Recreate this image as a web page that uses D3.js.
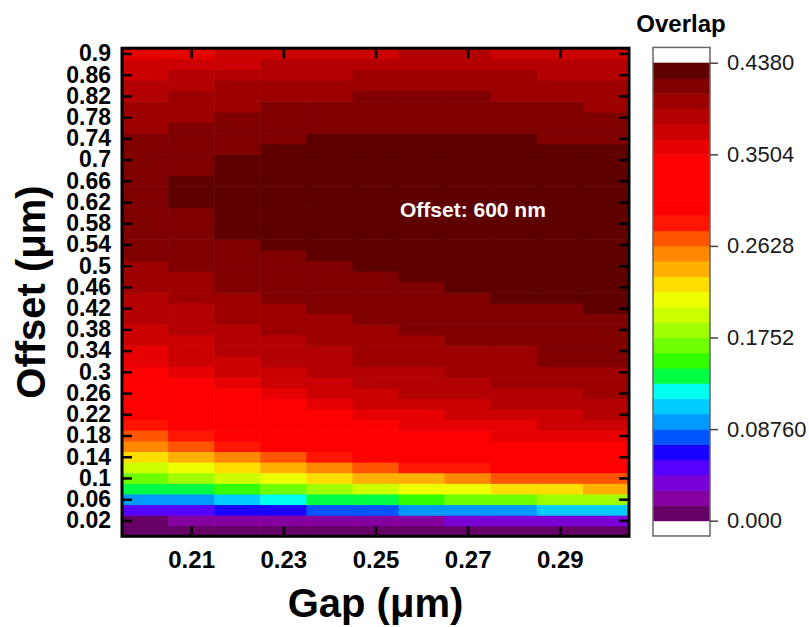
<!DOCTYPE html>
<html>
<head>
<meta charset="utf-8">
<script src="https://cdn.jsdelivr.net/npm/d3@7"></script>
<style>
  body { margin: 0; background: #fff; }
  text { font-family: "Liberation Sans", Arial, sans-serif; }
</style>
</head>
<body>
<div id="chart"></div>
<script>
// gap values (columns, um) and offset values (rows, um)
const gaps = [0.20, 0.21, 0.22, 0.23, 0.24, 0.25, 0.26, 0.27, 0.28, 0.29, 0.30];
const offsets = [0, 0.02, 0.04, 0.06, 0.08, 0.1, 0.12, 0.14, 0.16, 0.18, 0.2, 0.22, 0.24, 0.26,
  0.28, 0.3, 0.32, 0.34, 0.36, 0.38, 0.4, 0.42, 0.44, 0.46, 0.48, 0.5, 0.52, 0.54, 0.56, 0.58,
  0.6, 0.62, 0.64, 0.66, 0.68, 0.7, 0.72, 0.74, 0.76, 0.78, 0.8, 0.82, 0.84, 0.86, 0.88, 0.9];

// overlap, one row per offset (bottom to top), one value per gap
const overlap = [
  [.007,.007,.007,.007,.007,.007,.007,.007,.007,.007,.007],
  [.007,.022,.022,.022,.022,.022,.022,.037,.037,.037,.037],
  [.051,.051,.066,.066,.080,.080,.095,.095,.095,.110,.110],
  [.095,.095,.110,.124,.139,.139,.153,.168,.168,.183,.183],
  [.139,.139,.153,.168,.183,.197,.212,.212,.226,.226,.241],
  [.168,.183,.197,.212,.226,.241,.241,.256,.270,.270,.270],
  [.197,.212,.226,.241,.256,.270,.285,.285,.320,.320,.320],
  [.226,.241,.256,.270,.285,.320,.320,.320,.320,.320,.320],
  [.256,.270,.285,.320,.320,.320,.320,.320,.320,.320,.320],
  [.270,.285,.320,.320,.320,.320,.320,.320,.358,.358,.358],
  [.285,.320,.320,.320,.320,.320,.358,.358,.358,.372,.372],
  [.320,.320,.320,.320,.320,.358,.358,.372,.372,.372,.387],
  [.320,.320,.320,.320,.358,.372,.372,.372,.387,.387,.387],
  [.320,.320,.320,.358,.372,.372,.387,.387,.387,.387,.402],
  [.320,.320,.358,.372,.372,.387,.387,.387,.402,.402,.402],
  [.320,.358,.372,.372,.387,.387,.387,.402,.402,.402,.402],
  [.358,.372,.372,.387,.387,.402,.402,.402,.402,.416,.416],
  [.358,.372,.387,.387,.387,.402,.402,.402,.402,.416,.416],
  [.372,.372,.387,.387,.402,.402,.402,.416,.416,.416,.416],
  [.372,.387,.387,.402,.402,.402,.416,.416,.416,.416,.416],
  [.387,.387,.402,.402,.402,.416,.416,.416,.416,.416,.416],
  [.387,.387,.402,.402,.416,.416,.416,.416,.416,.416,.431],
  [.387,.402,.402,.416,.416,.416,.416,.416,.431,.431,.431],
  [.402,.402,.416,.416,.416,.416,.416,.431,.431,.431,.431],
  [.402,.402,.416,.416,.416,.416,.431,.431,.431,.431,.431],
  [.402,.416,.416,.416,.416,.431,.431,.431,.431,.431,.431],
  [.416,.416,.416,.416,.431,.431,.431,.431,.431,.431,.431],
  [.416,.416,.416,.431,.431,.431,.431,.431,.431,.431,.431],
  [.416,.416,.431,.431,.431,.431,.431,.431,.431,.431,.431],
  [.416,.416,.431,.431,.431,.431,.431,.431,.431,.431,.431],
  [.416,.416,.431,.431,.431,.431,.431,.431,.431,.431,.431],
  [.416,.431,.431,.431,.431,.431,.431,.431,.431,.431,.431],
  [.416,.431,.431,.431,.431,.431,.431,.431,.431,.431,.431],
  [.416,.431,.431,.431,.431,.431,.431,.431,.431,.431,.431],
  [.416,.416,.431,.431,.431,.431,.431,.431,.431,.431,.431],
  [.416,.416,.431,.431,.431,.431,.431,.431,.431,.431,.431],
  [.416,.416,.416,.431,.431,.431,.431,.431,.431,.431,.431],
  [.416,.416,.416,.416,.431,.431,.431,.431,.431,.416,.416],
  [.402,.416,.416,.416,.416,.416,.416,.416,.416,.416,.416],
  [.402,.402,.416,.416,.416,.416,.416,.416,.416,.416,.416],
  [.402,.402,.402,.416,.416,.416,.416,.416,.416,.416,.402],
  [.387,.402,.402,.402,.402,.416,.416,.416,.402,.402,.402],
  [.387,.387,.402,.402,.402,.402,.402,.402,.402,.402,.402],
  [.372,.387,.387,.387,.387,.402,.402,.402,.402,.387,.387],
  [.372,.372,.372,.387,.387,.387,.387,.387,.387,.387,.387],
  [.358,.358,.372,.372,.372,.372,.387,.387,.372,.372,.372]
];

const xTicks = [0.21, 0.23, 0.25, 0.27, 0.29];
const yTicks = [0.02, 0.06, 0.1, 0.14, 0.18, 0.22, 0.26, 0.3, 0.34, 0.38, 0.42, 0.46, 0.5,
  0.54, 0.58, 0.62, 0.66, 0.7, 0.74, 0.78, 0.82, 0.86, 0.9];
const barTicks = [0, 0.0876, 0.1752, 0.2628, 0.3504, 0.438];
const barTickLabels = ["0.000", "0.08760", "0.1752", "0.2628", "0.3504", "0.4380"];

// 30 colour levels of the colour bar, bottom to top
const levelColors = ["#660066", "#8500a0", "#7a00d8", "#5500ff", "#1a00ff", "#0055ff",
  "#0099ff", "#00ccff", "#00ffee", "#00ff44", "#33ff00", "#6eff00", "#a0ff00", "#ccff00",
  "#eeff00", "#ffdd00", "#ffb000", "#ff8800", "#ff5500", "#ff1500", "#ff0000", "#ff0000",
  "#ff0000", "#ff0000", "#e60000", "#cc0000", "#b30000", "#9c0000", "#800000", "#5e0000"];

const barMax = 0.438;
const step = barMax / levelColors.length;

const svg = d3.select("#chart").append("svg")
  .attr("width", 809)
  .attr("height", 627);

const x = d3.scaleLinear().domain([0.195, 0.305]).range([122, 629]);
const y = d3.scaleLinear().domain([-0.01, 0.91]).range([536.3, 48.2]);
const color = d3.scaleThreshold()
  .domain(d3.range(1, levelColors.length).map(k => k * step))
  .range(levelColors);

// heat map cells
const cells = [];
offsets.forEach((o, i) => gaps.forEach((g, j) => cells.push({ g: g, o: o, v: overlap[i][j] })));

svg.append("g").selectAll("rect")
  .data(cells)
  .join("rect")
  .attr("x", d => x(d.g - 0.005))
  .attr("width", d => x(d.g + 0.005) - x(d.g - 0.005) + 0.6)
  .attr("y", d => y(d.o + 0.01))
  .attr("height", d => y(d.o - 0.01) - y(d.o + 0.01) + 0.6)
  .attr("fill", d => color(d.v));

svg.append("text")
  .attr("x", 400)
  .attr("y", 217)
  .attr("fill", "#fff")
  .attr("font-size", 21)
  .attr("font-weight", "bold")
  .text("Offset: 600 nm");

// axes, ticks pointing inward
function styleAxis(sel, size) {
  sel.select(".domain").remove();
  sel.selectAll(".tick line").attr("stroke", "#000").attr("stroke-width", 2.5);
  sel.selectAll(".tick text")
    .attr("fill", "#000")
    .attr("font-size", size)
    .attr("font-weight", "bold")
    .attr("font-family", '"Liberation Sans", Arial, sans-serif');
}

const fmt = d => String(+d.toFixed(2));

svg.append("g")
  .attr("transform", "translate(122,0)")
  .call(d3.axisLeft(y).tickValues(yTicks).tickSize(-10).tickPadding(11).tickFormat(fmt))
  .call(styleAxis, 23);

svg.append("g")
  .attr("transform", "translate(629,0)")
  .call(d3.axisRight(y).tickValues(yTicks).tickSize(-10).tickFormat(""))
  .call(styleAxis, 23);

svg.append("g")
  .attr("transform", "translate(0,536.3)")
  .call(d3.axisBottom(x).tickValues(xTicks).tickSize(-10).tickPadding(15).tickFormat(fmt))
  .call(styleAxis, 24);

svg.append("g")
  .attr("transform", "translate(0,48.2)")
  .call(d3.axisTop(x).tickValues(xTicks).tickSize(-10).tickFormat(""))
  .call(styleAxis, 24);

svg.append("rect")
  .attr("x", 122)
  .attr("y", 48.2)
  .attr("width", 507)
  .attr("height", 488.1)
  .attr("fill", "none")
  .attr("stroke", "#000")
  .attr("stroke-width", 3);

svg.append("text")
  .attr("x", 375.5)
  .attr("y", 617)
  .attr("text-anchor", "middle")
  .attr("font-size", 40)
  .attr("font-weight", "bold")
  .text("Gap (μm)");

svg.append("text")
  .attr("transform", "translate(45,292) rotate(-90)")
  .attr("text-anchor", "middle")
  .attr("font-size", 40)
  .attr("font-weight", "bold")
  .text("Offset (μm)");

// colour bar
const cy = d3.scaleLinear().domain([0, barMax]).range([520.7, 62.7]);

svg.append("rect")
  .attr("x", 653)
  .attr("y", cy(barMax + step))
  .attr("width", 57)
  .attr("height", cy(-step) - cy(barMax + step))
  .attr("fill", "#fff");

svg.append("g").selectAll("rect")
  .data(levelColors)
  .join("rect")
  .attr("x", 653)
  .attr("width", 57)
  .attr("y", (c, k) => cy((k + 1) * step))
  .attr("height", (c, k) => cy(k * step) - cy((k + 1) * step) + 0.5)
  .attr("fill", c => c);

svg.append("rect")
  .attr("x", 653)
  .attr("y", cy(barMax + step))
  .attr("width", 57)
  .attr("height", cy(-step) - cy(barMax + step))
  .attr("fill", "none")
  .attr("stroke", "#666")
  .attr("stroke-width", 1.5);

const barAxis = svg.append("g")
  .attr("transform", "translate(710,0)")
  .call(d3.axisRight(cy).tickValues(barTicks).tickSize(8).tickPadding(9)
    .tickFormat((d, i) => barTickLabels[i]));
barAxis.select(".domain").remove();
barAxis.selectAll(".tick line").attr("stroke", "#444").attr("stroke-width", 1.5);
barAxis.selectAll(".tick text")
  .attr("fill", "#1a1a1a")
  .attr("font-size", 22)
  .attr("font-family", '"Liberation Sans", Arial, sans-serif');

svg.append("text")
  .attr("x", 681)
  .attr("y", 32)
  .attr("text-anchor", "middle")
  .attr("font-size", 24)
  .attr("font-weight", "bold")
  .text("Overlap");
</script>
</body>
</html>
